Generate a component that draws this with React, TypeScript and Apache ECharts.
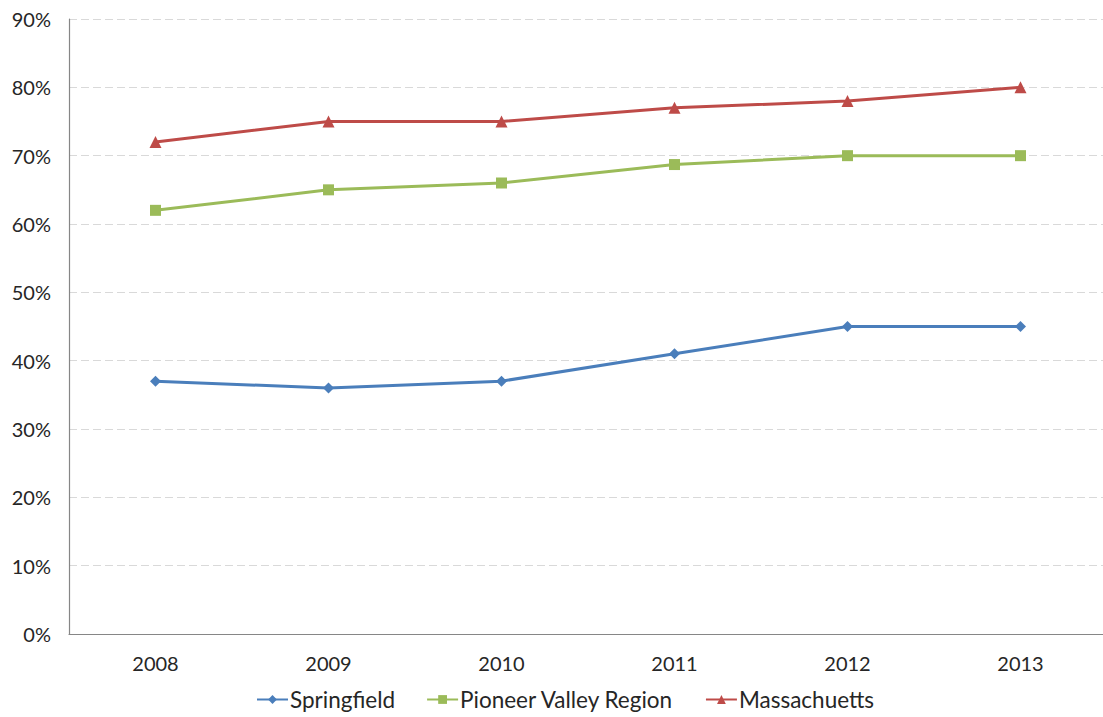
import React, { useEffect, useRef } from "react";
import * as echarts from "echarts";

const years = ["2008", "2009", "2010", "2011", "2012", "2013"];
const springfield = [37, 36, 37, 41, 45, 45];
const pioneerValley = [62, 65, 66, 68.7, 70, 70];
const massachusetts = [72, 75, 75, 77, 78, 80];

const FONT = "Lato, 'Open Sans', sans-serif";

export default function App() {
  const ref = useRef<HTMLDivElement>(null);

  useEffect(() => {
    if (!ref.current) return;
    const chart = echarts.init(ref.current, undefined, { renderer: "svg" });
    const line = (name: string, data: number[], color: string, symbol: string, size: number) => ({
      name,
      type: "line",
      data,
      symbol,
      symbolSize: size,
      showSymbol: true,
      lineStyle: { color, width: 3 },
      itemStyle: { color },
    });
    chart.setOption({
      animation: false,
      backgroundColor: "#ffffff",
      textStyle: { fontFamily: FONT },
      grid: { left: 69, top: 19, width: 1038, bottom: 83 },
      legend: {
        bottom: 1,
        left: 251,
        itemWidth: 31,
        itemHeight: 11,
        itemGap: 31,
        textStyle: { fontSize: 22.5, color: "#262626", fontFamily: FONT, padding: [0, 0, 0, -3] },
        data: ["Springfield", "Pioneer Valley Region", "Massachuetts"],
      },
      xAxis: {
        type: "category",
        data: years,
        boundaryGap: true,
        axisLine: { lineStyle: { color: "#868686", width: 1.2 } },
        axisTick: { show: false },
        axisLabel: { color: "#262626", fontSize: 20, margin: 19, fontFamily: FONT },
      },
      yAxis: {
        type: "value",
        min: 0,
        max: 90,
        interval: 10,
        axisLine: { show: true, lineStyle: { color: "#868686", width: 1.2 } },
        axisTick: { show: false },
        axisLabel: { color: "#262626", fontSize: 20, margin: 18, formatter: "{value}%", fontFamily: FONT },
        splitLine: { lineStyle: { color: "#d9d9d9", type: [8, 4], width: 1 } },
      },
      series: [
        line("Springfield", springfield, "#4a7ebb", "diamond", 11),
        line("Pioneer Valley Region", pioneerValley, "#9bbb59", "rect", 11),
        line("Massachuetts", massachusetts, "#be4b48", "triangle", 12),
      ],
    });
    return () => chart.dispose();
  }, []);

  return (
    <div
      ref={ref}
      style={{ position: "fixed", left: 0, top: 0, width: 1112, height: 717 }}
    />
  );
}
